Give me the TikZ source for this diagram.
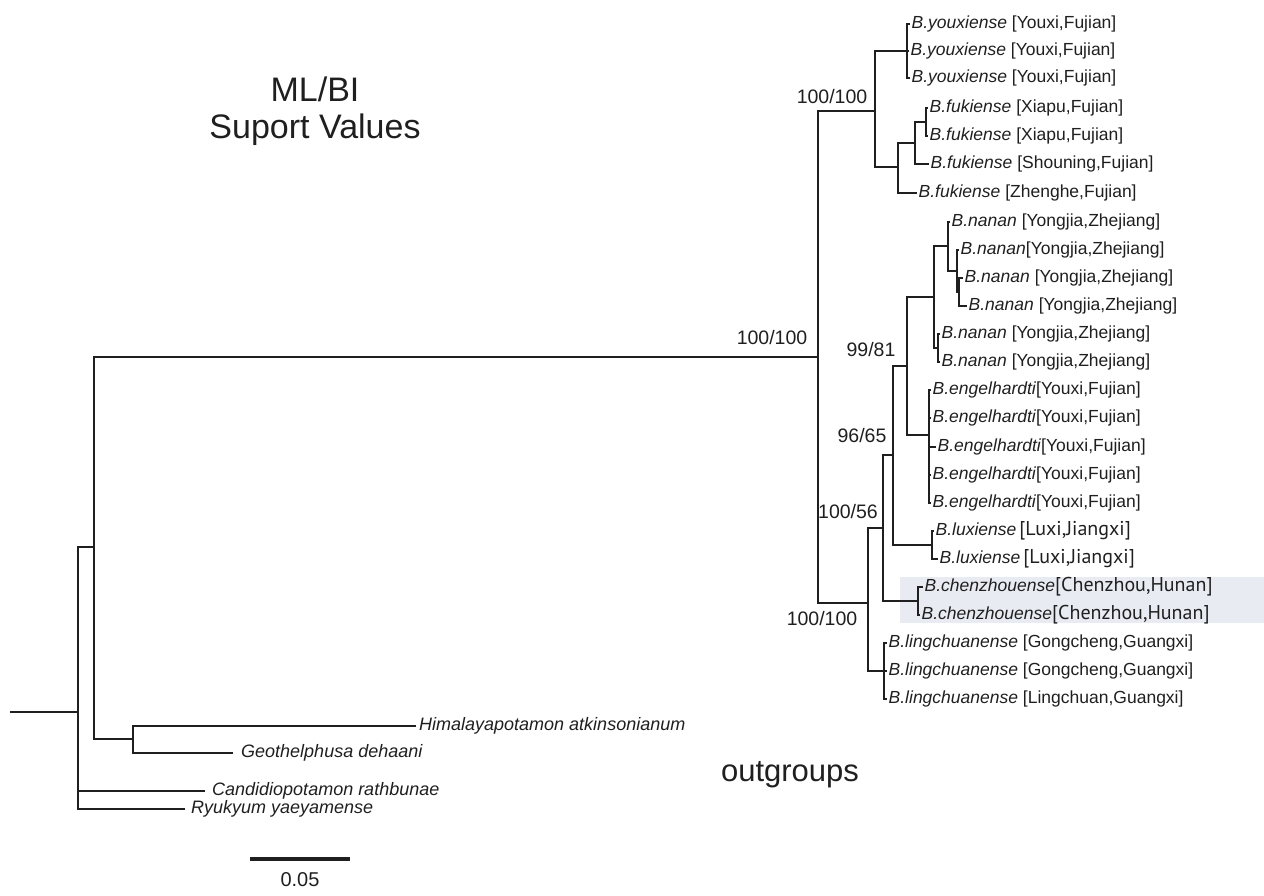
\documentclass[tikz,border=0pt]{standalone}
\usepackage{fontspec}
\setmainfont{Liberation Sans}
\newfontfamily\humfont{PT Sans}
\definecolor{ink}{rgb}{0.12,0.12,0.12}
\definecolor{hilite}{rgb}{0.91,0.925,0.95}
\begin{document}
\begin{tikzpicture}[x=1pt,y=-1pt,
  branch/.style={line width=1.7pt, draw=ink},
  taxon/.style={anchor=west, inner sep=1.5pt, font=\fontsize{17.5}{20}\selectfont, text=ink},
  outtaxon/.style={taxon, font=\fontsize{18}{20}\selectfont},
  supp/.style={font=\fontsize{19.5}{22}\selectfont, text=ink, inner sep=0pt},
]
\useasboundingbox (0,0) rectangle (1264,896);

% shaded band behind the B. chenzhouense samples
\fill[hilite] (900,577) rectangle (1264,623);

% ---------- internal nodes ----------
\coordinate (stub) at (10,712);
\coordinate (R) at (78,712);
\coordinate (A) at (94,547);
\coordinate (O) at (133,739);
\coordinate (B) at (818,357);
\coordinate (C) at (875,111);
\coordinate (Y) at (907,51);
\coordinate (K) at (898,167);
\coordinate (L) at (915,143);
\coordinate (M) at (926,122);
\coordinate (J) at (868,603);
\coordinate (I) at (883,528);
\coordinate (D) at (893,455);
\coordinate (E) at (907,366);
\coordinate (F) at (934,297);
\coordinate (G) at (948,246);
\coordinate (P) at (957,271);
\coordinate (Q) at (959,292);
\coordinate (H) at (938,348);
\coordinate (N) at (929,435);
\coordinate (LX) at (932,545);
\coordinate (CH) at (918,601);
\coordinate (LC) at (884,671);

% ---------- tips ----------
\coordinate (tHim) at (416,726);
\coordinate (tGeo) at (233,753);
\coordinate (tCan) at (205,791);
\coordinate (tRyu) at (185,809);
\coordinate (tY1) at (910,24);
\coordinate (tY2) at (909,51);
\coordinate (tY3) at (910,78);
\coordinate (tF1) at (928,108);
\coordinate (tF2) at (928,136);
\coordinate (tF3) at (929,164);
\coordinate (tF4) at (917,193);
\coordinate (tN1) at (950,222);
\coordinate (tN2) at (959,250);
\coordinate (tN3) at (963,278);
\coordinate (tN4) at (967,306);
\coordinate (tN5) at (940,334);
\coordinate (tN6) at (940,362);
\coordinate (tE1) at (931,390);
\coordinate (tE2) at (931,418);
\coordinate (tE3) at (936,447);
\coordinate (tE4) at (931,475);
\coordinate (tE5) at (931,503);
\coordinate (tL1) at (934,531);
\coordinate (tL2) at (938,559);
\coordinate (tC1) at (923,587);
\coordinate (tC2) at (920,615);
\coordinate (tG1) at (887,643);
\coordinate (tG2) at (887,671);
\coordinate (tG3) at (887,699);

% ---------- branches ----------
\draw[branch] (stub) -- (R);
\draw[branch] (R) |- (A);
\draw[branch] (R) |- (tCan);
\draw[branch] (R) |- (tRyu);
\draw[branch] (A) |- (B);
\draw[branch] (A) |- (O);
\draw[branch] (O) |- (tHim);
\draw[branch] (O) |- (tGeo);

\draw[branch] (B) |- (C);
\draw[branch] (B) |- (J);
\draw[branch] (C) |- (Y);
\draw[branch] (C) |- (K);
\foreach \t in {tY1,tY2,tY3} \draw[branch] (Y) |- (\t);
\draw[branch] (K) |- (L);
\draw[branch] (K) |- (tF4);
\draw[branch] (L) |- (M);
\draw[branch] (L) |- (tF3);
\draw[branch] (M) |- (tF1);
\draw[branch] (M) |- (tF2);

\draw[branch] (J) |- (I);
\draw[branch] (J) |- (LC);
\draw[branch] (I) |- (D);
\draw[branch] (I) |- (CH);
\draw[branch] (D) |- (E);
\draw[branch] (D) |- (LX);
\draw[branch] (E) |- (F);
\draw[branch] (E) |- (N);
\draw[branch] (F) |- (G);
\draw[branch] (F) |- (H);
\draw[branch] (G) |- (tN1);
\draw[branch] (G) |- (P);
\draw[branch] (P) |- (tN2);
\draw[branch] (P) |- (Q);
\draw[branch] (Q) |- (tN3);
\draw[branch] (Q) |- (tN4);
\draw[branch] (H) |- (tN5);
\draw[branch] (H) |- (tN6);
\foreach \t in {tE1,tE2,tE3,tE4,tE5} \draw[branch] (N) |- (\t);
\draw[branch] (LX) |- (tL1);
\draw[branch] (LX) |- (tL2);
\draw[branch] (CH) |- (tC1);
\draw[branch] (CH) |- (tC2);
\foreach \t in {tG1,tG2,tG3} \draw[branch] (LC) |- (\t);

% ---------- taxon labels ----------
\node[taxon] (lY1) at (tY1) {\textit{B.youxiense} [Youxi,Fujian]};
\node[taxon] (lY2) at (tY2) {\textit{B.youxiense} [Youxi,Fujian]};
\node[taxon] (lY3) at (tY3) {\textit{B.youxiense} [Youxi,Fujian]};
\node[taxon] (lF1) at (tF1) {\textit{B.fukiense} [Xiapu,Fujian]};
\node[taxon] (lF2) at (tF2) {\textit{B.fukiense} [Xiapu,Fujian]};
\node[taxon] (lF3) at (tF3) {\textit{B.fukiense} [Shouning,Fujian]};
\node[taxon] (lF4) at (tF4) {\textit{B.fukiense} [Zhenghe,Fujian]};
\node[taxon] (lN1) at (tN1) {\textit{B.nanan} [Yongjia,Zhejiang]};
\node[taxon] (lN2) at (tN2) {\textit{B.nanan}[Yongjia,Zhejiang]};
\node[taxon] (lN3) at (tN3) {\textit{B.nanan} [Yongjia,Zhejiang]};
\node[taxon] (lN4) at (tN4) {\textit{B.nanan} [Yongjia,Zhejiang]};
\node[taxon] (lN5) at (tN5) {\textit{B.nanan} [Yongjia,Zhejiang]};
\node[taxon] (lN6) at (tN6) {\textit{B.nanan} [Yongjia,Zhejiang]};
\node[taxon] (lE1) at (tE1) {\textit{B.engelhardti}[Youxi,Fujian]};
\node[taxon] (lE2) at (tE2) {\textit{B.engelhardti}[Youxi,Fujian]};
\node[taxon] (lE3) at (tE3) {\textit{B.engelhardti}[Youxi,Fujian]};
\node[taxon] (lE4) at (tE4) {\textit{B.engelhardti}[Youxi,Fujian]};
\node[taxon] (lE5) at (tE5) {\textit{B.engelhardti}[Youxi,Fujian]};
\node[taxon] (lL1) at (tL1) {\textit{B.luxiense}\,{\humfont\fontsize{20}{22}\selectfont[Luxi,Jiangxi]}};
\node[taxon] (lL2) at (tL2) {\textit{B.luxiense}\,{\humfont\fontsize{20}{22}\selectfont[Luxi,Jiangxi]}};
\node[taxon] (lC1) at (tC1) {\textit{B.chenzhouense}{\humfont\fontsize{20}{22}\selectfont[Chenzhou,Hunan]}};
\node[taxon] (lC2) at (tC2) {\textit{B.chenzhouense}{\humfont\fontsize{20}{22}\selectfont[Chenzhou,Hunan]}};
\node[taxon] (lG1) at (tG1) {\textit{B.lingchuanense} [Gongcheng,Guangxi]};
\node[taxon] (lG2) at (tG2) {\textit{B.lingchuanense} [Gongcheng,Guangxi]};
\node[taxon] (lG3) at (tG3) {\textit{B.lingchuanense} [Lingchuan,Guangxi]};

\node[outtaxon, inner sep=3pt] (lHim) at (tHim) {\textit{Himalayapotamon atkinsonianum}};
\node[outtaxon, inner sep=8pt] (lGeo) at (tGeo) {\textit{Geothelphusa dehaani}};
\node[outtaxon, inner sep=7pt] (lCan) at (tCan) {\textit{Candidiopotamon rathbunae}};
\node[outtaxon, inner sep=6pt] (lRyu) at (tRyu) {\textit{Ryukyum yaeyamense}};

% ---------- support values ----------
\node[supp] (s1) at (832,97) {100/100};
\node[supp] (s2) at (772,338) {100/100};
\node[supp] (s3) at (871,350) {99/81};
\node[supp] (s4) at (862,436) {96/65};
\node[supp] (s5) at (848,512) {100/56};
\node[supp] (s6) at (822,619) {100/100};

% ---------- headings ----------
\node[align=center, text=ink, font=\fontsize{34}{37}\selectfont] (title) at (315,111) {ML/BI\\Suport Values};
\node[text=ink, font=\fontsize{31}{34}\selectfont, inner sep=0pt] (og) at (790,775) {outgroups};

% ---------- scale bar ----------
\coordinate (sb0) at (250,859);
\coordinate (sb1) at (350,859);
\draw[line width=4.3pt, draw=ink] (sb0) -- (sb1);
\node[text=ink, font=\fontsize{20}{22}\selectfont, inner sep=0pt] (sbl) at (300,880) {0.05};
\end{tikzpicture}
\end{document}
